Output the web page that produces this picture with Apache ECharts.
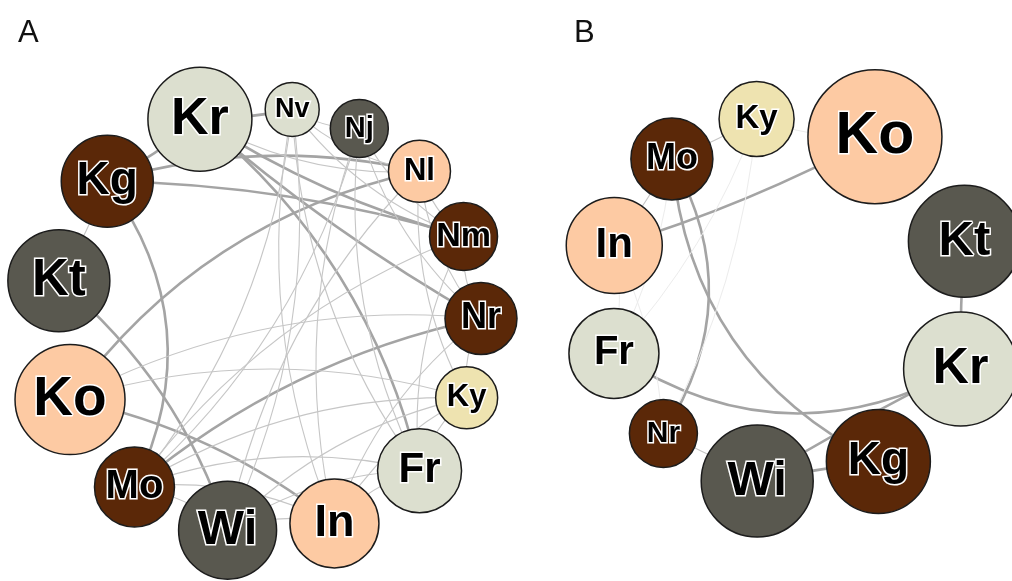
<!DOCTYPE html>
<html><head><meta charset="utf-8">
<script src="https://cdn.jsdelivr.net/npm/echarts@6/dist/echarts.min.js"></script>
<style>html,body{margin:0;padding:0;background:#fff}#c{width:1012px;height:581px}</style>
</head><body><div id="c"></div>
<script>
// ---------- data ----------
// Panel A: nodes in ring order (clockwise) and their sizes
const namesA = ['Nr','Ky','Fr','In','Wi','Mo','Ko','Kt','Kg','Kr','Nv','Nj','Nl','Nm'];
const sizesA = [36, 31, 42, 44.5, 49, 40, 55, 51, 46, 52, 27, 29, 31, 34];
// links: [source, target, weight]  (2 = strong, 1 = weak, 0.5 = very weak)
const linksA = [
  ['Kr','Nv',2],['Kr','Kg',2],['Kr','Fr',2],['Kr','Nm',2],['Kr','Nr',2],
  ['Kg','Nl',2],['Kg','Nm',2],['Kg','Mo',2],['Kt','Wi',2],['Ko','Nl',2],
  ['Ko','In',2],['Mo','Nr',2],
  ['Kt','Kg',1],['Ko','Nr',1],['Ko','Ky',1],['Mo','Nv',1],['Mo','Nj',1],
  ['Mo','Nm',1],['Mo','Ky',1],['Mo','Fr',1],['Mo','In',1],['Mo','Wi',1],
  ['Wi','Nv',1],['Wi','Nl',1],['Wi','Ky',1],['Wi','Fr',1],['Wi','In',1],
  ['In','Nv',1],['In','Nj',1],['In','Nr',1],['In','Ky',1],['In','Fr',1],
  ['Fr','Nj',1],['Fr','Nv',1],['Fr','Nm',1],['Fr','Ky',1],['Nv','Nl',1],
  ['Nv','Nm',1],['Nv','Nj',1],['Nj','Nm',1],['Nj','Nr',1],['Nl','Nr',1],
  ['Nl','Nm',1],['Nm','Nr',1],['Ky','Nr',1],['Nl','Ky',1],['Kr','Nl',1]
];
// Panel B
const namesB = ['Kr','Kg','Wi','Nr','Fr','In','Mo','Ky','Ko','Kt'];
const sizesB = [57, 52, 56, 34, 45, 48, 41, 37.5, 67, 56];
const linksB = [
  ['Ko','In',2],['Kt','Kr',2],['Mo','Kg',2],['Mo','Nr',2],['Fr','Kr',2],
  ['Kr','Wi',2],['Wi','Kg',2],
  ['Nr','Wi',1],['Mo','Ky',1],['Mo','In',1],
  ['Ky','Ko',0.5],['In','Fr',0.5],['Ky','Nr',0.5],['Mo','Fr',0.5],['In','Nr',0.5],['Ky','Fr',0.5]
];
const panelLabels = ['A','B'];

// ---------- styles / layout ----------
const nodeColor = {
  Kr:'#dcdfcf', Nv:'#dcdfcf', Fr:'#dcdfcf',
  Nj:'#59584f', Kt:'#59584f', Wi:'#59584f',
  Nl:'#fdcaa3', Ko:'#fdcaa3', In:'#fdcaa3',
  Nm:'#5b2808', Nr:'#5b2808', Kg:'#5b2808', Mo:'#5b2808',
  Ky:'#eee3b0'
};
const edgeStyle = {
  2:   {width:2.6, color:'#a4a4a4'},
  1:   {width:1.1, color:'#c6c6c6'},
  0.5: {width:1,   color:'#ececec'}
};
// bend toward ring centre (positive) or away from it (negative)
const bendA = {'Kg-Mo':0.3,'Kt-Wi':0.145,'Mo-Nr':0.125,'Ko-Nl':-0.19,'Ko-In':0.12,
               'Kr-Fr':-0.17,'Kg-Nl':-0.13,'Kg-Nm':-0.07,'Kr-Nm':0.08,'Kr-Nr':0.05,
               'Kr-Nv':0.05,'Kr-Kg':0.05,'Kt-Kg':0.05};
const bendB = {'Ko-In':0.05,'Mo-Kg':-0.28,'Mo-Nr':0.3,'Fr-Kr':-0.3,'Kr-Wi':0.03,
               'Kt-Kr':0.02,'Wi-Kg':0.02,'Nr-Wi':0.03,'Mo-Ky':0.03,'Mo-In':0.03};
const panels = [
  {center:[268,321], radius:213, startAngle:0.7, defaultBend:0.15, fontK:1.0},
  {center:[790,300], radius:184, startAngle:-22, defaultBend:0.1, fontK:0.88}
];

// angular position (deg, clockwise) of each node: equal gaps between circles
function ringAngles(sizes, R) {
  const halves = sizes.map(r => Math.asin(Math.min(1, r / R)) * 180 / Math.PI);
  const gap = (360 - 2 * halves.reduce((a, b) => a + b, 0)) / sizes.length;
  const out = [];
  let a = 0;
  for (let i = 0; i < sizes.length; i++) {
    if (i > 0) a += halves[i - 1] + gap + halves[i];
    out.push(a);
  }
  return out;
}

function buildSeries(idx, names, sizes, links, bends) {
  const P = panels[idx];
  const ang = ringAngles(sizes, P.radius);
  const angOf = {};
  names.forEach((n, i) => angOf[n] = ang[i]);
  return {
    type: 'graph',
    coordinateSystem: 'polar',
    polarIndex: idx,
    silent: true,
    animation: false,
    symbol: 'circle',
    data: names.map((nm, i) => ({
      name: nm,
      value: [1, ang[i]],
      symbolSize: sizes[i] * 2,
      itemStyle: {color: nodeColor[nm], borderColor: '#1c1c1c', borderWidth: 1.5},
      label: {fontSize: Math.round(sizes[i] * P.fontK)}
    })),
    label: {
      show: true, position: 'inside', formatter: '{b}',
      fontFamily: 'Liberation Sans', fontWeight: 'bold', color: '#000',
      textBorderColor: '#fff', textBorderWidth: 3
    },
    links: links.map(l => {
      const key = l[0] + '-' + l[1];
      const inward = (key in bends) ? bends[key] : P.defaultBend;
      const d = ((angOf[l[1]] - angOf[l[0]]) % 360 + 360) % 360;
      const c = d < 180 ? -inward : inward;   // clockwise travel: left side is outward
      return {
        source: l[0], target: l[1], value: l[2],
        lineStyle: {width: edgeStyle[l[2]].width, color: edgeStyle[l[2]].color, opacity: 1, curveness: c}
      };
    }),
    lineStyle: {opacity: 1},
    emphasis: {disabled: true}
  };
}

const chart = echarts.init(document.getElementById('c'), null, {renderer: 'canvas'});
chart.setOption({
  backgroundColor: '#fff',
  animation: false,
  title: [
    {text: panelLabels[0], left: 13, top: 13, textStyle: {fontFamily: 'Liberation Sans', fontSize: 31, fontWeight: 'normal', color: '#111'}},
    {text: panelLabels[1], left: 569, top: 13, textStyle: {fontFamily: 'Liberation Sans', fontSize: 31, fontWeight: 'normal', color: '#111'}}
  ],
  polar: panels.map(p => ({center: p.center, radius: p.radius})),
  radiusAxis: panels.map((p, i) => ({polarIndex: i, type: 'value', min: 0, max: 1, show: false})),
  angleAxis: panels.map((p, i) => ({polarIndex: i, type: 'value', min: 0, max: 360, startAngle: p.startAngle, clockwise: true, show: false})),
  series: [
    buildSeries(0, namesA, sizesA, linksA, bendA),
    buildSeries(1, namesB, sizesB, linksB, bendB)
  ]
});
</script>
</body></html>
